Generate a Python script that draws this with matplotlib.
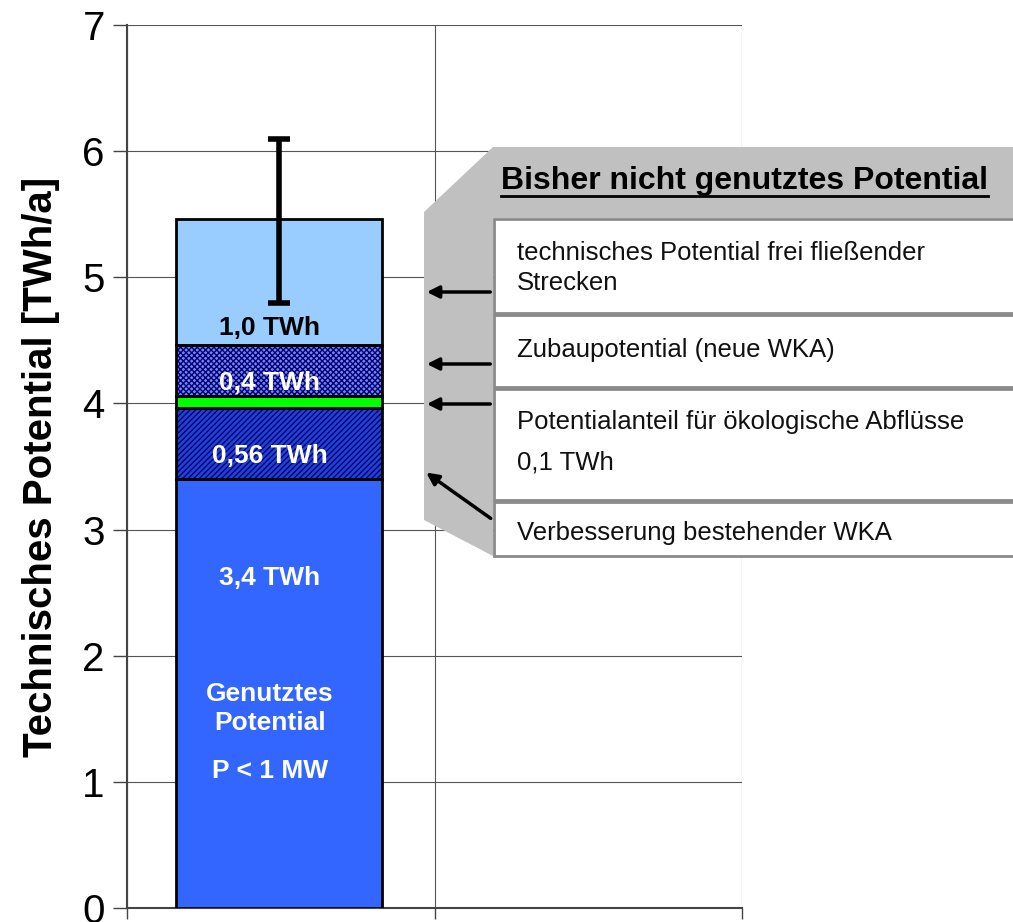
import matplotlib
matplotlib.use("Agg")
import matplotlib.pyplot as plt
from matplotlib.patches import Polygon, Rectangle, FancyArrowPatch

plt.rcParams['font.family'] = ['Liberation Sans', 'DejaVu Sans']
plt.rcParams['hatch.linewidth'] = 1.0

# ---- data ----
segment_names = ["Genutztes Potential", "Verbesserung bestehender WKA",
                 "Potentialanteil für ökologische Abflüsse", "Zubaupotential (neue WKA)",
                 "technisches Potential frei fließender Strecken"]
segment_values = [3.4, 0.56, 0.1, 0.4, 1.0]
segment_labels = ["3,4 TWh", "0,56 TWh", "", "0,4 TWh", "1,0 TWh"]
segment_colors = ["#3366FF", "#2244CC", "#00FF00", "#7788E0", "#99CCFF"]
segment_hatches = [None, "//////", None, "xxxxxx", None]
segment_hatch_colors = [None, "#000080", None, "#000080", None]
segment_label_colors = ["white", "white", "white", "white", "black"]
label_y = [2.62, 3.58, None, 4.16, 4.6]
error_low, error_high = 4.8, 6.1

y_ticks = [0, 1, 2, 3, 4, 5, 6, 7]
y_label = "Technisches Potential [TWh/a]"
base_text = ["Genutztes", "Potential", "P < 1 MW"]
base_text_y = [1.70, 1.47, 1.09]

callout_title = "Bisher nicht genutztes Potential"
callout_rows = [["technisches Potential frei fließender", "Strecken"],
                ["Zubaupotential (neue WKA)"],
                ["Potentialanteil für ökologische Abflüsse", "0,1 TWh"],
                ["Verbesserung bestehender WKA"]]

W, H = 1013, 922
fig = plt.figure(figsize=(W / 100, H / 100), dpi=100)
ax = fig.add_axes([127 / W, 1 - 908 / H, (742 - 127) / W, (908 - 25) / H])

x = 0.495
width = 0.67
label_x = x - 0.03
bottom = 0.0
for v, c, h, hc in zip(segment_values, segment_colors, segment_hatches, segment_hatch_colors):
    if h:
        ax.bar(x, v, width, bottom=bottom, color=c, hatch=h, edgecolor=hc, linewidth=0, zorder=3)
    else:
        ax.bar(x, v, width, bottom=bottom, color=c, linewidth=0, zorder=3)
    ax.bar(x, v, width, bottom=bottom, fill=False, edgecolor="black", linewidth=2, zorder=4)
    bottom += v
total = bottom

for lab, ly, lc in zip(segment_labels, label_y, segment_label_colors):
    if lab:
        ax.text(label_x, ly, lab, ha="center", va="center", color=lc, fontsize=19,
                fontweight="bold", zorder=6)
for t, ty in zip(base_text, base_text_y):
    ax.text(label_x, ty, t, ha="center", va="center", color="white", fontsize=19,
            fontweight="bold", zorder=6)

ax.errorbar([x], [total], yerr=[[total - error_low], [error_high - total]], fmt="none",
            ecolor="black", elinewidth=4, capsize=8, capthick=4, zorder=5)

ax.set_xlim(0, 2)
ax.set_ylim(0, 7)
ax.set_yticks(y_ticks)
ax.set_yticklabels([str(t) for t in y_ticks], fontsize=29)
ax.set_xticks([0, 1, 2])
ax.set_xticklabels([])
ax.grid(True, axis="both", color="#555555", linewidth=0.8, zorder=0)
ax.set_axisbelow(True)
for s in ["top", "right"]:
    ax.spines[s].set_visible(False)
ax.spines["left"].set_color("#444444")
ax.spines["left"].set_linewidth(1.5)
ax.spines["bottom"].set_color("#444444")
ax.spines["bottom"].set_linewidth(1.5)
ax.tick_params(axis="y", length=10, width=1, color="#444444", pad=6)
ax.tick_params(axis="x", length=8, width=1, color="#444444", direction="out")
ax.set_ylabel(y_label, fontsize=29, fontweight="bold", labelpad=16)

# ---- callout overlay in pixel coordinates ----
ov = fig.add_axes([0, 0, 1, 1], zorder=10)
ov.set_xlim(0, W)
ov.set_ylim(H, 0)
ov.axis("off")

gray = "#C0C0C0"
ov.add_patch(Polygon([(424, 212), (493, 147), (W, 147), (W, 218), (493, 218),
                      (493, 556), (424, 520)], closed=True, facecolor=gray,
                     edgecolor="none"))
ov.text(501, 181, callout_title, fontsize=23, fontweight="bold", va="center", ha="left")
ov.plot([501, 988], [196, 196], color="black", lw=2)

rows = [(219, 313), (315, 387), (389, 500), (502, 556)]
for (y0, y1) in rows:
    ov.add_patch(Rectangle((494, y0), W - 494 + 5, y1 - y0, facecolor="white",
                           edgecolor="#8a8a8a", linewidth=2))

row_text_y = [[253, 283], [350], [422, 462], [533]]
for lines, ys in zip(callout_rows, row_text_y):
    for t, ty in zip(lines, ys):
        ov.text(517, ty, t, fontsize=18.5, va="center", ha="left", color="#111111")

arrows = [((493, 292), (424, 292)), ((493, 364), (424, 364)),
          ((493, 404), (424, 404)), ((493, 520), (424, 471))]
for start, end in arrows:
    ov.add_patch(FancyArrowPatch(start, end, arrowstyle="-|>", mutation_scale=18,
                                 color="black", linewidth=2.5))

fig.savefig("out.png", dpi=100)
